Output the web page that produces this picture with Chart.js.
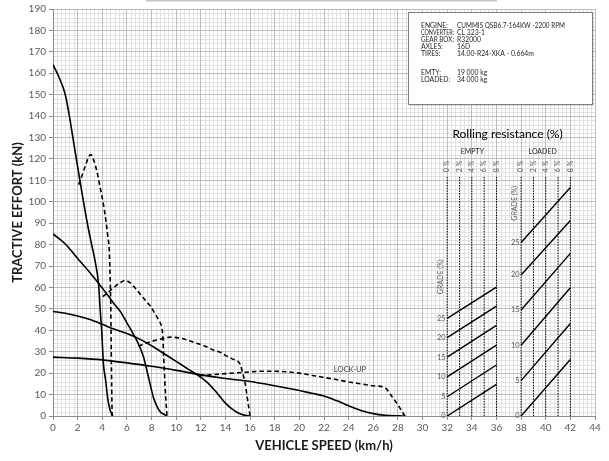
<!DOCTYPE html>
<html>
<head>
<meta charset="utf-8">
<script src="https://cdn.jsdelivr.net/npm/chart.js@4/dist/chart.umd.min.js"></script>
<style>
  html, body { margin: 0; padding: 0; background: #fff; }
  #wrap { width: 609px; height: 461px; }
</style>
</head>
<body>
<div id="wrap"><canvas id="effortChart"></canvas></div>
<script>
// Tractive effort curves (speed km/h, effort kN)
const gear1ConvX = [0, 0.5, 1, 1.3, 1.67, 2.2, 2.76, 3.1, 3.43, 3.7, 3.84, 3.95, 4.1, 4.27, 4.45, 4.6, 4.85];
const gear1ConvY = [164, 158, 150, 141, 128, 109.4, 90.8, 81, 72, 61.5, 49, 40, 24, 16.7, 8, 3.5, 0];
const gear1LockX = [2.08, 2.4, 2.7, 2.9, 3.08, 3.3, 3.57, 3.84, 4.1, 4.3, 4.45, 4.57, 4.65, 4.7, 4.73, 4.77, 4.8];
const gear1LockY = [108, 113, 118, 121, 122, 119.5, 114, 106.3, 98.6, 91, 84, 77, 62, 48, 30, 12, 0];

const gear2ConvX = [0, 1, 2, 3, 4, 4.5, 5, 5.5, 6, 6.4, 6.81, 7.1, 7.35, 7.55, 7.75, 8, 8.16, 8.4, 8.7, 9, 9.25];
const gear2ConvY = [85, 80.3, 73.5, 66.9, 59.8, 56, 52, 48.5, 43.5, 39.5, 35.2, 31.5, 27.5, 23, 18.2, 12, 8.5, 5, 2, 0.8, 0];
const gear2LockX = [4.05, 4.78, 5.4, 5.86, 6.27, 6.7, 7.08, 7.5, 7.89, 8.3, 8.6, 8.84, 8.92, 8.97, 9.05, 9.1, 9.25];
const gear2LockY = [55.7, 59.2, 62, 63.3, 62.2, 59.5, 56.9, 54, 51.4, 47.6, 44.5, 41, 37, 29, 20, 13.6, 0];

const gear3ConvX = [0, 1, 2, 3, 4, 5, 6, 7, 8, 9, 10, 11, 11.95, 12.5, 13, 13.5, 14, 14.5, 15, 15.5, 16];
const gear3ConvY = [48.8, 48, 46.7, 45, 42.8, 40.5, 38.5, 36, 32.8, 29.2, 25.5, 21.8, 18.3, 15.8, 12.8, 9.5, 6, 3.4, 1.5, 0.4, 0];
const gear3LockX = [6.94, 7.5, 8, 8.43, 9, 9.51, 10.05, 10.5, 11, 11.4, 12, 12.5, 13, 13.57, 14, 14.5, 15.19, 15.4, 15.6, 15.8, 16];
const gear3LockY = [32.6, 33.8, 34.8, 35.5, 36.2, 36.8, 36.6, 36.2, 35.3, 34.4, 33.3, 32.2, 30.8, 29.8, 28.3, 26.8, 24.2, 20, 15.2, 7.5, 0];

const gear4ConvX = [0, 2, 4, 6, 8, 10, 12, 14, 16, 18, 20, 21, 22, 23, 24, 25, 26, 27, 28, 28.6];
const gear4ConvY = [27.5, 27, 26.2, 24.8, 23.2, 21.3, 19.2, 17.5, 16.1, 14.1, 11.9, 10.6, 9.3, 7.2, 4.8, 2.6, 1.1, 0.3, 0.05, 0];
const gear4LockX = [11.9, 13, 14, 15, 16, 17, 18, 19, 20, 21, 22, 23, 24, 25, 26, 26.95, 27.4, 27.9, 28.3, 28.57];
const gear4LockY = [18.8, 19.3, 19.8, 20.2, 20.6, 20.9, 20.9, 20.6, 20, 19, 18, 17, 15.9, 15, 14.1, 13.3, 10, 6, 2.5, 0];

// Rolling resistance nomogram
const rrLabels = ['0 %', '2 %', '4 %', '6 %', '8 %'];
const emptyRrX = [32, 33, 34, 35, 36];
const loadedRrX = [38, 39, 40, 41, 42];
const rrTop = 112;
const gradeLabels = ['0', '5', '10', '15', '20', '25'];
const emptyStartY = [0, 9, 18.3, 27.5, 36.6, 45.6];
const emptyEndY = [14.8, 23.8, 33.1, 42.3, 51.3, 60.2];
const loadedStartY = [0, 16.5, 33, 49.5, 65.8, 81];
const loadedEndY = [26.4, 43.2, 59.9, 75.9, 91.3, 106.7];

// Axis ticks
const xMin = 0, xMax = 44, xStep = 2;
const yMin = 0, yMax = 190, yStep = 10;

const infoLabels = ['ENGINE:', 'CONVERTER:', 'GEAR BOX:', 'AXLES:', 'TIRES:', '', 'EMTY:', 'LOADED:'];
const infoValues = ['CUMMIS QSB6.7-164KW -2200 RPM', 'CL 323-1', 'R32000', '16D', '14.00-R24-XKA - 0.664m', '', '19 000 kg', '34 000 kg'];

const FONT = 'Lato, "Open Sans", sans-serif';

function pts(xs, ys) {
    return xs.map((x, i) => ({ x: x, y: ys[i] }));
}

function curve(xs, ys, dashed) {
    return {
        data: pts(xs, ys),
        borderColor: '#000',
        borderWidth: 1.6,
        borderDash: dashed ? [4.5, 3] : [],
        pointRadius: 0,
        cubicInterpolationMode: 'monotone',
        fill: false
    };
}

function straight(xs, ys, width, dash) {
    return {
        data: pts(xs, ys),
        borderColor: '#000',
        borderWidth: width,
        borderDash: dash || [],
        pointRadius: 0,
        tension: 0,
        fill: false
    };
}

const datasets = [
    curve(gear1ConvX, gear1ConvY, false),
    curve(gear1LockX, gear1LockY, true),
    curve(gear2ConvX, gear2ConvY, false),
    curve(gear2LockX, gear2LockY, true),
    curve(gear3ConvX, gear3ConvY, false),
    curve(gear3LockX, gear3LockY, true),
    curve(gear4ConvX, gear4ConvY, false),
    curve(gear4LockX, gear4LockY, true)
];

// dotted rolling resistance verticals
emptyRrX.concat(loadedRrX).forEach(x => {
    datasets.push(straight([x, x], [0, rrTop], 1, [1.5, 1.2]));
});
// grade lines
emptyStartY.forEach((y0, i) => {
    datasets.push(straight([emptyRrX[0], emptyRrX[4]], [y0, emptyEndY[i]], 1.4));
});
loadedStartY.forEach((y0, i) => {
    datasets.push(straight([loadedRrX[0], loadedRrX[4]], [y0, loadedEndY[i]], 1.4));
});

// Minor grid + white background
const minorGrid = {
    id: 'minorGrid',
    beforeDraw(chart) {
        const { ctx, chartArea: a, scales: { x, y } } = chart;
        ctx.save();
        ctx.fillStyle = '#fff';
        ctx.fillRect(0, 0, chart.width, chart.height);
        ctx.strokeStyle = '#e1e1e1';
        ctx.lineWidth = 1;
        ctx.beginPath();
        for (let i = 0; i <= xMax * 3; i++) {
            if (i % 6 === 0) continue;
            const px = Math.round(x.getPixelForValue(i / 3)) + 0.5;
            ctx.moveTo(px, a.top);
            ctx.lineTo(px, a.bottom);
        }
        for (let v = yMin; v <= yMax; v += 2) {
            if (v % 10 === 0) continue;
            const py = Math.round(y.getPixelForValue(v)) + 0.5;
            ctx.moveTo(a.left, py);
            ctx.lineTo(a.right, py);
        }
        ctx.stroke();
        // clipped title box edge at the top
        ctx.strokeStyle = '#c4c4c4';
        ctx.lineWidth = 1.5;
        ctx.beginPath();
        ctx.moveTo(146, 0.8);
        ctx.lineTo(497, 0.8);
        ctx.stroke();
        ctx.restore();
    }
};

// Texts and info box
const annotations = {
    id: 'annotations',
    afterDatasetsDraw(chart) {
        const { ctx, scales: { x, y } } = chart;
        ctx.save();

        // info box
        const bx = 408, by = 12, bw = 184, bh = 92;
        ctx.fillStyle = 'rgba(0,0,0,0.12)';
        ctx.fillRect(bx + 2, by + 2, bw, bh);
        ctx.fillStyle = '#fff';
        ctx.fillRect(bx, by, bw, bh);
        ctx.strokeStyle = '#7f7f7f';
        ctx.lineWidth = 1;
        ctx.strokeRect(bx + 0.5, by + 0.5, bw, bh);
        ctx.fillStyle = '#262626';
        ctx.font = '6.8px ' + FONT;
        ctx.textBaseline = 'middle';
        ctx.textAlign = 'left';
        const rowsY = [26, 33, 40, 47, 54, 63, 73, 80];
        infoLabels.forEach((lab, i) => {
            ctx.fillText(lab, 421, rowsY[i], 33);
            ctx.fillText(infoValues[i], 457, rowsY[i], 108);
        });

        // rolling resistance title
        ctx.fillStyle = '#000';
        ctx.textAlign = 'center';
        ctx.font = '12px ' + FONT;
        ctx.fillText('Rolling resistance (%)', x.getPixelForValue(36.9), y.getPixelForValue(131.7));
        ctx.font = '7px ' + FONT;
        ctx.fillStyle = '#262626';
        ctx.fillText('EMPTY', x.getPixelForValue(34.05), y.getPixelForValue(123.3));
        ctx.fillText('LOADED', x.getPixelForValue(39.75), y.getPixelForValue(123.3));

        // rotated rr labels
        ctx.fillStyle = '#595959';
        ctx.font = '7px ' + FONT;
        emptyRrX.concat(loadedRrX).forEach((xv, i) => {
            ctx.save();
            ctx.translate(x.getPixelForValue(xv), y.getPixelForValue(116.5));
            ctx.rotate(-Math.PI / 2);
            ctx.fillText(rrLabels[i % 5], 0, 0);
            ctx.restore();
        });

        // GRADE (%) rotated
        ctx.font = '7px ' + FONT;
        [[31.45, 65], [37.5, 99.3]].forEach(p => {
            ctx.save();
            ctx.translate(x.getPixelForValue(p[0]), y.getPixelForValue(p[1]));
            ctx.rotate(-Math.PI / 2);
            ctx.fillText('GRADE (%)', 0, 0);
            ctx.restore();
        });

        // grade tick labels
        ctx.textAlign = 'right';
        ctx.font = '7.5px ' + FONT;
        gradeLabels.forEach((lab, i) => {
            ctx.fillText(lab, x.getPixelForValue(emptyRrX[0]) - 1.5, y.getPixelForValue(emptyStartY[i]));
            ctx.fillText(lab, x.getPixelForValue(loadedRrX[0]) - 1.5, y.getPixelForValue(loadedStartY[i]));
        });

        // lock-up label
        ctx.textAlign = 'center';
        ctx.fillStyle = '#404040';
        ctx.font = '7.5px ' + FONT;
        ctx.fillText('LOCK-UP', x.getPixelForValue(24.1), y.getPixelForValue(21.6));

        ctx.restore();
    }
};

new Chart(document.getElementById('effortChart'), {
    type: 'line',
    data: { datasets: datasets },
    options: {
        responsive: true,
        maintainAspectRatio: false,
        animation: false,
        layout: { padding: { top: 6, right: 14, left: 0, bottom: 0 } },
        plugins: {
            legend: { display: false },
            tooltip: { enabled: false }
        },
        scales: {
            x: {
                type: 'linear',
                min: xMin,
                max: xMax,
                ticks: { stepSize: xStep, color: '#595959', font: { family: FONT, size: 10 }, padding: 2, maxRotation: 0 },
                grid: { color: '#bdbdbd', tickLength: 4, tickColor: '#8c8c8c' },
                border: { color: '#8c8c8c' },
                title: {
                    display: true,
                    text: 'VEHICLE SPEED (km/h)',
                    color: '#1a1a1a',
                    font: { family: FONT, size: 13, weight: 'bold' },
                    padding: { top: 4, bottom: 7 }
                },
                afterFit: s => { s.height = 45; }
            },
            y: {
                type: 'linear',
                min: yMin,
                max: yMax,
                ticks: { stepSize: yStep, color: '#595959', font: { family: FONT, size: 10 }, padding: 3 },
                grid: { color: '#bdbdbd', tickLength: 4, tickColor: '#8c8c8c' },
                border: { color: '#8c8c8c' },
                title: {
                    display: true,
                    text: 'TRACTIVE EFFORT (kN)',
                    color: '#1a1a1a',
                    font: { family: FONT, size: 13, weight: 'bold' },
                    padding: { top: 10, bottom: 0 }
                },
                afterFit: s => { s.width = 53; }
            }
        }
    },
    plugins: [minorGrid, annotations]
});
</script>
</body>
</html>
